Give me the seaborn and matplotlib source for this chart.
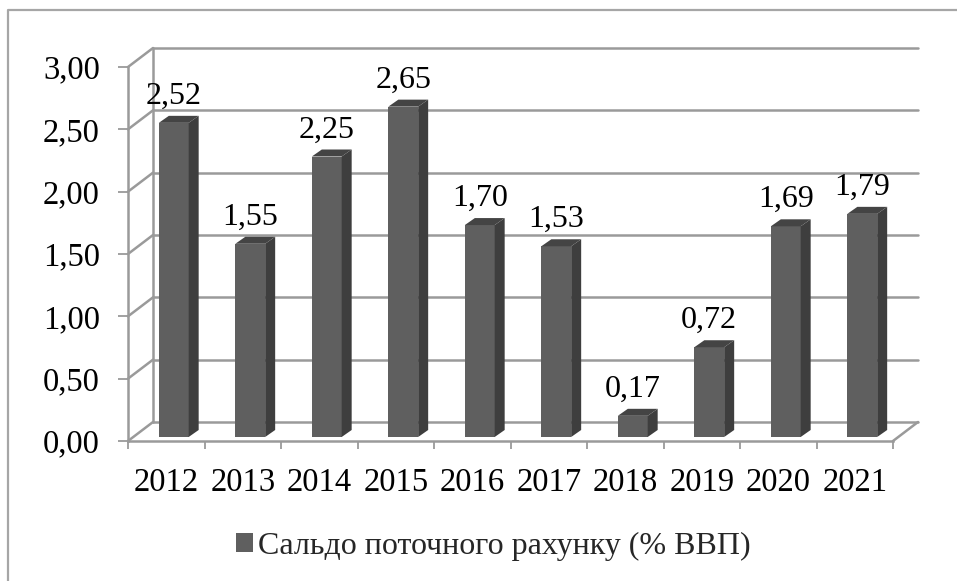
import matplotlib
matplotlib.use("Agg")
import matplotlib.pyplot as plt
import matplotlib.transforms as mtransforms
from matplotlib.patches import Polygon, Rectangle
from matplotlib.lines import Line2D
import seaborn as sns
import pandas as pd

years = ["2012", "2013", "2014", "2015", "2016", "2017", "2018", "2019", "2020", "2021"]
values = [2.52, 1.55, 2.25, 2.65, 1.70, 1.53, 0.17, 0.72, 1.69, 1.79]
series_name = "Сальдо поточного рахунку (% ВВП)"
y_ticks = [0.0, 0.5, 1.0, 1.5, 2.0, 2.5, 3.0]

df = pd.DataFrame({"year": years, "value": values})

sns.set_theme(style="white")
plt.rcParams["font.family"] = ["Liberation Serif", "DejaVu Serif"]

W, H, DPI = 957, 581, 100
fig = plt.figure(figsize=(W / DPI, H / DPI), dpi=DPI)

L, R, B, T = 128, 893, 441, 67
ax = fig.add_axes([L / W, (H - B) / H, (R - L) / W, (B - T) / H])

FRONT = "#5f5f5f"
SIDE = "#3e3e3e"
TOP = "#444444"
GRID = "#9a9a9a"

sns.barplot(data=df, x="year", y="value", color=FRONT, width=0.39,
            saturation=1, ax=ax, zorder=5)
ax.set_xlim(-0.5, len(years) - 0.5)
ax.set_ylim(0, 3.0)
ax.set_xlabel("")
ax.set_ylabel("")

def px(dx, dy):
    return mtransforms.ScaledTranslation(dx / DPI, dy / DPI, fig.dpi_scale_trans)

# depth geometry (pixels)
DEPTH_X, DEPTH_Y = 25, 19          # back wall offset
BAR_DX, BAR_DY = 7.5, 4            # bar plane offset
SIDE_X, SIDE_Y = 10, 7             # bar depth

bar_tr = ax.transData + px(BAR_DX, BAR_DY)
back_tr = ax.transData + px(DEPTH_X, DEPTH_Y)

# gridlines on back wall and left wall
for yv in y_ticks:
    ax.plot([-0.5, len(years) - 0.5], [yv, yv], color=GRID, lw=1.8,
            transform=back_tr, clip_on=False, zorder=1)
    p0 = ax.transData.transform((-0.5, yv))
    p1 = p0 + [DEPTH_X, DEPTH_Y]
    fig.lines.append(Line2D([p0[0], p1[0]], [p0[1], p1[1]], color=GRID, lw=1.8,
                            transform=None, zorder=1))
# back wall left edge
ax.plot([-0.5, -0.5], [0, 3.0], color=GRID, lw=1.8, transform=back_tr,
        clip_on=False, zorder=1)
# floor right edge
q0 = ax.transData.transform((len(years) - 0.5, 0))
q1 = q0 + [DEPTH_X, DEPTH_Y]
fig.lines.append(Line2D([q0[0], q1[0]], [q0[1], q1[1]], color=GRID, lw=1.8,
                        transform=None, zorder=1))

# 3D bars
for patch, v in zip(ax.patches, values):
    patch.set_transform(bar_tr)
    patch.set_edgecolor("none")
    x0 = patch.get_x()
    w = patch.get_width()
    h = patch.get_height()
    a = ax.transData.transform((x0, 0)) + [BAR_DX, BAR_DY]
    b = ax.transData.transform((x0 + w, h)) + [BAR_DX, BAR_DY]
    side = Polygon([(b[0], a[1]), (b[0] + SIDE_X, a[1] + SIDE_Y),
                    (b[0] + SIDE_X, b[1] + SIDE_Y), (b[0], b[1])],
                   closed=True, facecolor=SIDE, edgecolor="none",
                   transform=None, zorder=6)
    top = Polygon([(a[0], b[1]), (b[0], b[1]), (b[0] + SIDE_X, b[1] + SIDE_Y),
                   (a[0] + SIDE_X, b[1] + SIDE_Y)],
                  closed=True, facecolor=TOP, edgecolor="none",
                  transform=None, zorder=6)
    fig.patches.extend([side, top])
    ax.annotate(f"{v:.2f}".replace(".", ","),
                xy=(x0 + w / 2, h), xycoords=bar_tr,
                xytext=(0, 12 * 0.72), textcoords="offset points",
                ha="center", va="bottom", fontsize=23, color="black", zorder=7)

# axes styling
for s in ["top", "right"]:
    ax.spines[s].set_visible(False)
for s in ["left", "bottom"]:
    ax.spines[s].set_color(GRID)
    ax.spines[s].set_linewidth(1.8)
    ax.spines[s].set_zorder(2)

ax.set_yticks(y_ticks)
ax.set_yticklabels([f"{t:.2f}".replace(".", ",") for t in y_ticks])
ax.tick_params(axis="y", length=7.2, width=1.3, color=GRID, pad=13,
               labelsize=23.5, labelcolor="black", left=True)
ax.set_xticks(range(len(years)))
ax.set_xticklabels(years)
ax.set_xticks([i - 0.5 for i in range(len(years) + 1)], minor=True)
ax.tick_params(axis="x", which="major", length=0, pad=19, labelsize=23.5,
               labelcolor="black")
ax.tick_params(axis="x", which="minor", length=6, width=1.3, color=GRID,
               bottom=True)
ax.set_facecolor("none")

# legend
handle = Rectangle((0, 0), 1, 1, facecolor=FRONT, edgecolor="none")
fig.legend([handle], [series_name], loc="center",
           bbox_to_anchor=(493 / W, (H - 546) / H), frameon=False,
           fontsize=23, handlelength=0.55, handleheight=0.55,
           handletextpad=0.15)

# outer border (top and left edges visible)
fig.lines.append(Line2D([8, 8, W], [0, H - 10, H - 10], color="#a6a6a6",
                        lw=1.6, transform=None))

fig.savefig("out.png", dpi=DPI)
